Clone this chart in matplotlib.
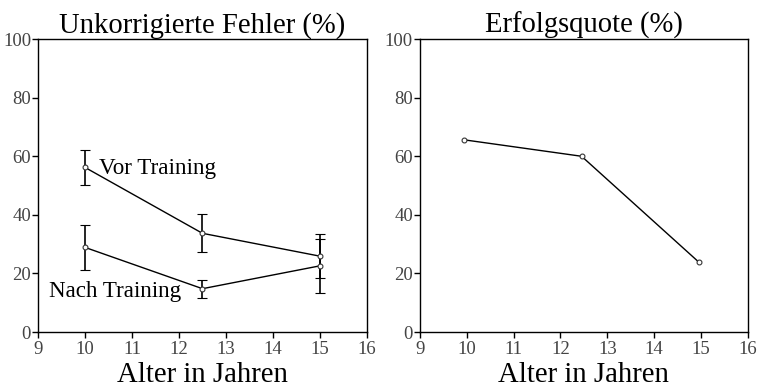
import matplotlib
matplotlib.use("Agg")
import matplotlib.pyplot as plt

# Data
ages = [10, 12.5, 15]
vor_mean = [56.2, 33.7, 25.9]
vor_err = [5.9, 6.5, 7.6]
nach_mean = [28.9, 14.8, 22.6]
nach_err = [7.7, 3.1, 9.2]
erfolg_ages = [9.95, 12.45, 14.95]
erfolg = [65.6, 60.0, 23.9]

xticks = [9, 10, 11, 12, 13, 14, 15, 16]
yticks = [0, 20, 40, 60, 80, 100]

plt.rcParams['font.family'] = ['Liberation Serif', 'DejaVu Serif']

fig = plt.figure(figsize=(7.58, 3.87), dpi=100)
ax1 = fig.add_axes([0.0501, 0.142, 0.434, 0.757])
ax2 = fig.add_axes([0.554, 0.142, 0.4327, 0.757])

def style(ax, title):
    ax.set_xlim(9, 16)
    ax.set_ylim(0, 100)
    ax.set_xticks(xticks)
    ax.set_yticks(yticks)
    ax.tick_params(direction='out', length=4, width=1, labelsize=13.5,
                   labelcolor='#444444', pad=1, top=False, right=False)
    ax.tick_params(axis='x', pad=2.5)
    for s in ax.spines.values():
        s.set_linewidth(1.0)
        s.set_color('black')
    ax.set_title(title, fontsize=20.6, pad=2)
    ax.set_xlabel('Alter in Jahren', fontsize=20.7, labelpad=2.5)

for m, e in [(vor_mean, vor_err), (nach_mean, nach_err)]:
    ax1.errorbar(ages, m, yerr=e, color='black', lw=1, elinewidth=1.2,
                 capsize=3.5, capthick=1.2, marker='o', ms=3.5,
                 mfc='white', mec='#333333', mew=0.8)
ax1.text(10.3, 55.7, 'Vor Training', fontsize=16.7, ha='left', va='center')
ax1.text(9.23, 14.0, 'Nach Training', fontsize=16.6, ha='left', va='center')

ax2.plot(erfolg_ages, erfolg, color='black', lw=1, marker='o', ms=3.5,
         mfc='white', mec='#333333', mew=0.8)

style(ax1, 'Unkorrigierte Fehler (%)')
style(ax2, 'Erfolgsquote (%)')

fig.savefig('out.png', dpi=100)
